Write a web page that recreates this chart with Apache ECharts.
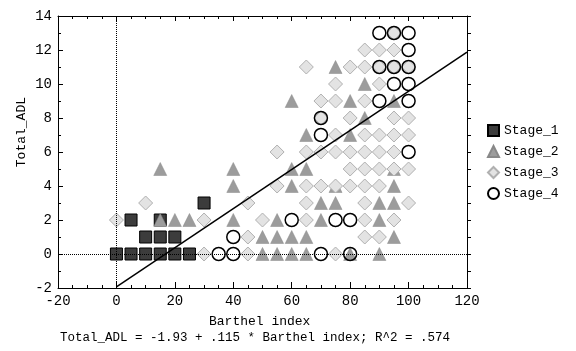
<!DOCTYPE html>
<html>
<head>
<meta charset="utf-8">
<script src="https://cdn.jsdelivr.net/npm/echarts@6/dist/echarts.min.js"></script>
<style>
html, body { margin: 0; padding: 0; background: #fff; }
#chart { width: 576px; height: 351px; }
</style>
</head>
<body>
<div id="chart"></div>
<script>
// [Barthel index, Total_ADL]
var stage1 = [[0,0],[5,0],[10,0],[15,0],[20,0],[25,0],[10,1],[15,1],[20,1],[5,2],[15,2],[30,3]];
var stage2 = [
    [15,5],[15,2],[20,2],[25,2],[40,2],[55,2],[70,2],[90,2],
    [40,4],[40,5],[60,4],[60,5],[65,5],[65,7],[60,9],[75,11],[85,10],[80,9],[95,9],[85,8],[80,7],
    [50,1],[55,1],[60,1],[65,1],[95,1],
    [50,0],[55,0],[60,0],[65,0],[80,0],[90,0],
    [70,3],[75,3],[90,3],[95,3],[75,4],[95,4],[95,5]
];
var stage3 = [
    [0,2],[10,3],[30,0],[30,2],[45,0],[45,1],[45,3],[50,2],[55,4],[55,6],
    [65,2],[65,3],[65,4],[65,6],[70,4],[70,6],[75,0],[75,4],[75,6],
    [85,1],[90,1],[85,2],[95,2],[85,3],[100,3],[80,4],[85,4],[90,4],
    [80,5],[85,5],[90,5],[95,5],[100,5],[80,6],[85,6],[90,6],[95,6],
    [75,7],[85,7],[90,7],[95,7],[100,7],[70,8],[80,8],[95,8],[100,8],
    [70,9],[75,9],[85,9],[75,10],[90,10],
    [65,11],[80,11],[85,11],[90,11],[95,11],[100,11],[85,12],[90,12],[95,12],[95,13]
];
var stage4 = [
    [35,0],[40,0],[40,1],[70,0],[80,0],[60,2],[75,2],[80,2],[100,6],[70,7],[70,8],
    [90,9],[100,9],[95,10],[100,10],[90,11],[95,11],[100,11],[100,12],[90,13],[95,13],[100,13]
];
// fitted line end points
var fitLine = [[0,-1.93],[120,11.87]];
var xTicks = [-20, 0, 20, 40, 60, 80, 100, 120];
var yTicks = [-2, 0, 2, 4, 6, 8, 10, 12, 14];
var caption = 'Total_ADL = -1.93 + .115 * Barthel index; R^2 = .574';

var mono = 'Liberation Mono';
var chart = echarts.init(document.getElementById('chart'));
chart.setOption({
    animation: false,
    grid: { left: 58, right: 109, top: 16, bottom: 63 },
    legend: {
        data: ['Stage_1', 'Stage_2', 'Stage_3', 'Stage_4'],
        orient: 'vertical',
        left: 482,
        top: 119,
        itemWidth: 11,
        itemHeight: 11,
        itemGap: 8,
        textStyle: { fontFamily: mono, fontSize: 13, color: '#000' }
    },
    xAxis: [{
        type: 'value',
        min: xTicks[0], max: xTicks[xTicks.length - 1], interval: 20,
        axisLine: { onZero: false, lineStyle: { color: '#000' } },
        axisTick: { inside: true, length: 6, lineStyle: { color: '#000' } },
        minorTick: { show: true, splitNumber: 4, length: 3, lineStyle: { color: '#000' } },
        splitLine: { show: false },
        axisLabel: { color: '#000', fontFamily: mono, fontSize: 14, margin: 6 }
    }, {
        type: 'value', position: 'top',
        min: xTicks[0], max: xTicks[xTicks.length - 1], interval: 20,
        axisLine: { onZero: false, lineStyle: { color: '#000' } },
        axisTick: { inside: true, length: 5, lineStyle: { color: '#000' } },
        minorTick: { show: true, splitNumber: 4, length: 3, lineStyle: { color: '#000' } },
        splitLine: { show: false },
        axisLabel: { show: false }
    }],
    yAxis: [{
        type: 'value',
        min: yTicks[0], max: yTicks[yTicks.length - 1], interval: 2,
        axisLine: { onZero: false, lineStyle: { color: '#000' } },
        axisTick: { inside: true, length: 5, lineStyle: { color: '#000' } },
        minorTick: { show: true, splitNumber: 2, length: 3, lineStyle: { color: '#000' } },
        splitLine: { show: false },
        axisLabel: { color: '#000', fontFamily: mono, fontSize: 14, margin: 6 }
    }, {
        type: 'value', position: 'right',
        min: yTicks[0], max: yTicks[yTicks.length - 1], interval: 2,
        axisLine: { onZero: false, lineStyle: { color: '#000' } },
        axisTick: { inside: false, length: 4, lineStyle: { color: '#000' } },
        minorTick: { show: true, splitNumber: 2, length: 4, lineStyle: { color: '#000' } },
        splitLine: { show: false },
        axisLabel: { show: false }
    }],
    graphic: [{
        type: 'text', left: 15, top: 97,
        rotation: Math.PI / 2,
        style: { text: 'Total_ADL', font: '13px "Liberation Mono"', fill: '#000' }
    }, {
        type: 'text', left: 209, top: 315,
        style: { text: 'Barthel index', font: '13px "Liberation Mono"', fill: '#000' }
    }, {
        type: 'text', left: 60, top: 331,
        style: { text: caption, font: '12.5px "Liberation Mono"', fill: '#000' }
    }],
    series: [{
        type: 'line', data: [], silent: true, z: 1,
        markLine: {
            silent: true, symbol: 'none', label: { show: false },
            lineStyle: { color: '#000', type: 'dotted', width: 1 },
            data: [{ xAxis: 0 }, { yAxis: 0 }]
        }
    }, {
        name: 'Stage_1', type: 'scatter', data: stage1,
        symbol: 'rect', symbolSize: 12,
        itemStyle: { color: '#3c3c3c', borderColor: '#000', borderWidth: 1, opacity: 1 }
    }, {
        name: 'Stage_2', type: 'scatter', data: stage2,
        symbol: 'triangle', symbolSize: 13,
        itemStyle: { color: '#9c9c9c', borderColor: '#888', borderWidth: 0.5, opacity: 1 }
    }, {
        name: 'Stage_3', type: 'scatter', data: stage3,
        symbol: 'diamond', symbolSize: 14,
        itemStyle: { color: '#e3e3e3', borderColor: '#b0b0b0', borderWidth: 1, opacity: 1 }
    }, {
        name: 'Stage_4', type: 'scatter', data: stage4,
        symbol: 'circle', symbolSize: 13,
        itemStyle: { color: 'rgba(255,255,255,0)', borderColor: '#000', borderWidth: 1.5, opacity: 1 }
    }, {
        type: 'line', data: fitLine, symbol: 'none', silent: true, z: 3,
        lineStyle: { color: '#000', width: 1.5 }
    }]
});
</script>
</body>
</html>
